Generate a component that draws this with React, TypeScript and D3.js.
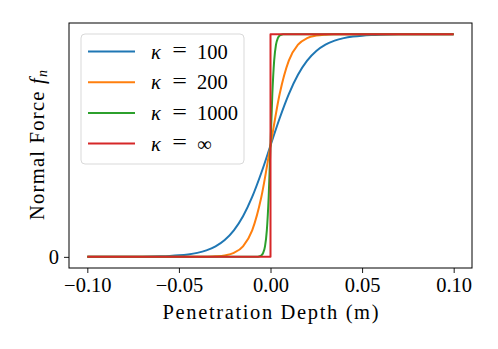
import { useEffect, useRef } from "react";
import { select, scaleLinear, axisBottom, axisLeft, line, curveMonotoneX, format } from "d3";

// kappa = 100
const x100 = [
  -0.1, -0.095, -0.09, -0.085, -0.08, -0.075, -0.07, -0.065, -0.06, -0.055, -0.05,
  -0.045, -0.04, -0.035, -0.03, -0.025, -0.02, -0.015, -0.01, -0.005, 0,
  0.005, 0.01, 0.015, 0.02, 0.025, 0.03, 0.035, 0.04, 0.045, 0.05,
  0.055, 0.06, 0.065, 0.07, 0.075, 0.08, 0.085, 0.09, 0.095, 0.1,
];
const y100 = [
  0.00005, 0.000075, 0.00012, 0.0002, 0.00034, 0.00055, 0.00091, 0.0015, 0.0025, 0.0041, 0.0067,
  0.011, 0.018, 0.0293, 0.0474, 0.0759, 0.1192, 0.1824, 0.2689, 0.3775, 0.5,
  0.6225, 0.7311, 0.8176, 0.8808, 0.9241, 0.9526, 0.9707, 0.982, 0.989, 0.9933,
  0.9959, 0.9975, 0.9985, 0.9991, 0.99945, 0.99966, 0.9998, 0.99988, 0.999925, 0.99995,
];

// kappa = 200
const x200 = [
  -0.1, -0.05, -0.045, -0.04, -0.035, -0.03, -0.025, -0.02, -0.015, -0.01, -0.005, 0,
  0.005, 0.01, 0.015, 0.02, 0.025, 0.03, 0.035, 0.04, 0.045, 0.05, 0.1,
];
const y200 = [
  0, 0.00005, 0.00012, 0.00034, 0.00091, 0.0025, 0.0067, 0.018, 0.0474, 0.1192, 0.2689, 0.5,
  0.7311, 0.8808, 0.9526, 0.982, 0.9933, 0.9975, 0.9991, 0.99966, 0.99988, 0.99995, 1,
];

// kappa = 1000
const x1000 = [
  -0.1, -0.01, -0.009, -0.008, -0.007, -0.006, -0.005, -0.004, -0.003, -0.002, -0.001, 0,
  0.001, 0.002, 0.003, 0.004, 0.005, 0.006, 0.007, 0.008, 0.009, 0.01, 0.1,
];
const y1000 = [
  0, 0.00005, 0.00012, 0.00034, 0.00091, 0.0025, 0.0067, 0.018, 0.0474, 0.1192, 0.2689, 0.5,
  0.7311, 0.8808, 0.9526, 0.982, 0.9933, 0.9975, 0.9991, 0.99966, 0.99988, 0.99995, 1,
];

// kappa = infinity (step)
const xInf = [-0.1, 0, 0, 0.1];
const yInf = [0, 0, 1, 1];

const seriesNames = ["100", "200", "1000", "∞"];
const seriesColors = ["#1f77b4", "#ff7f0e", "#2ca02c", "#d62728"];
const xTicks = [-0.1, -0.05, 0, 0.05, 0.1];
const yTicks = [0];

const FONT = "Liberation Serif";
const FS = 20.5;

export default function App() {
  const svgRef = useRef<SVGSVGElement>(null);

  useEffect(() => {
    document.body.style.margin = "0";
    const Width = 498;
    const Height = 349;
    const Margin = { top: 23, right: 26, bottom: 81, left: 69 };

    const svg = select(svgRef.current)
      .attr("width", Width)
      .attr("height", Height)
      .style("font-family", FONT);
    svg.selectAll("*").remove();

    const xScale = scaleLinear().domain([-0.11, 0.11]).range([Margin.left, Width - Margin.right]);
    const yScale = scaleLinear().domain([-0.05, 1.05]).range([Height - Margin.bottom, Margin.top]);

    const data = [
      { xs: x100, ys: y100, smooth: true },
      { xs: x200, ys: y200, smooth: true },
      { xs: x1000, ys: y1000, smooth: true },
      { xs: xInf, ys: yInf, smooth: false },
    ];

    const content = svg.append("g");
    data.forEach((s, i) => {
      const pts = s.xs.map((x, j) => [x, s.ys[j]] as [number, number]);
      const gen = line<[number, number]>()
        .x((d) => xScale(d[0]))
        .y((d) => yScale(d[1]));
      if (s.smooth) gen.curve(curveMonotoneX);
      content
        .append("path")
        .attr("d", gen(pts))
        .attr("fill", "none")
        .attr("stroke", seriesColors[i])
        .attr("stroke-width", 2)
        .attr("stroke-linejoin", "round");
    });

    // axes
    const xAxis = axisBottom(xScale)
      .tickValues(xTicks)
      .tickSize(5)
      .tickPadding(4)
      .tickFormat((d) => format(".2f")(d as number).replace("-", "\u2212"));
    const gx = svg
      .append("g")
      .attr("transform", "translate(0," + (Height - Margin.bottom) + ")")
      .call(xAxis)
      .attr("font-family", FONT)
      .attr("font-size", FS);
    gx.select(".domain").remove();
    gx.selectAll("text").attr("fill", "#000");
    gx.selectAll("line").attr("stroke", "#000").attr("stroke-width", 0.9);

    const yAxis = axisLeft(yScale).tickValues(yTicks).tickSize(5).tickPadding(5).tickFormat(format("d"));
    const gy = svg
      .append("g")
      .attr("transform", "translate(" + Margin.left + ",0)")
      .call(yAxis)
      .attr("font-family", FONT)
      .attr("font-size", FS);
    gy.select(".domain").remove();
    gy.selectAll("text").attr("fill", "#000");
    gy.selectAll("line").attr("stroke", "#000").attr("stroke-width", 0.9);

    // frame
    svg
      .append("rect")
      .attr("x", Margin.left)
      .attr("y", Margin.top)
      .attr("width", Width - Margin.left - Margin.right)
      .attr("height", Height - Margin.top - Margin.bottom)
      .attr("fill", "none")
      .attr("stroke", "#000")
      .attr("stroke-width", 1);

    // axis labels
    svg
      .append("text")
      .attr("x", (Margin.left + Width - Margin.right) / 2)
      .attr("y", 319)
      .attr("text-anchor", "middle")
      .attr("font-family", FONT)
      .attr("font-size", FS)
      .attr("textLength", 216)
      .attr("lengthAdjust", "spacing")
      .text("Penetration Depth (m)");

    const yl = svg
      .append("text")
      .attr("transform", "translate(44,145) rotate(-90)")
      .attr("text-anchor", "middle")
      .attr("font-family", FONT)
      .attr("font-size", FS)
      .attr("textLength", 150)
      .attr("lengthAdjust", "spacing");
    yl.append("tspan").text("Normal Force ");
    yl.append("tspan").attr("font-style", "italic").text("f");
    yl.append("tspan").attr("font-style", "italic").attr("font-size", 14).attr("dy", 3).text("n");

    // legend
    const legend = svg.append("g").attr("transform", "translate(81,34)");
    legend
      .append("rect")
      .attr("width", 163)
      .attr("height", 130)
      .attr("rx", 4)
      .attr("fill", "#fff")
      .attr("fill-opacity", 0.8)
      .attr("stroke", "#d9d9d9")
      .attr("stroke-width", 1);
    seriesNames.forEach((name, i) => {
      const yy = 17.5 + i * 30.7;
      legend
        .append("line")
        .attr("x1", 7)
        .attr("x2", 54)
        .attr("y1", yy)
        .attr("y2", yy)
        .attr("stroke", seriesColors[i])
        .attr("stroke-width", 2);
      const t = legend
        .append("g")
        .attr("font-family", FONT)
        .attr("font-size", FS);
      t.append("text").attr("x", 70).attr("y", yy + 7).attr("font-style", "italic").text("κ");
      t.append("text")
        .attr("x", 98.5)
        .attr("y", yy + 7)
        .attr("text-anchor", "middle")
        .attr("font-size", 26)
        .attr("transform", "translate(98.5," + (yy + 1) + ") scale(1,0.8) translate(-98.5," + -(yy + 1) + ")")
        .text("=");
      t.append("text").attr("x", 116).attr("y", yy + 7).text(name);
    });
  }, []);

  return <svg ref={svgRef} style={{ display: "block" }}></svg>;
}
